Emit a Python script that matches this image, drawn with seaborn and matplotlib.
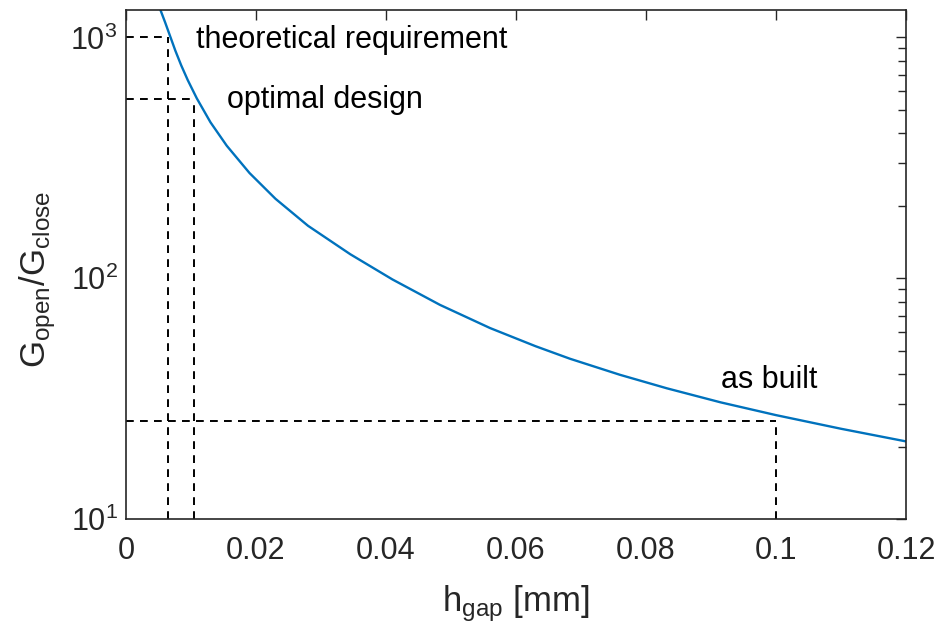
import numpy as np
import pandas as pd
import matplotlib
matplotlib.use("Agg")
import matplotlib.pyplot as plt
import seaborn as sns

# ---- data ----
h_gap = [0.0053, 0.0060, 0.0068, 0.0076, 0.0085, 0.0095, 0.0109, 0.0130, 0.0155,
         0.0190, 0.0230, 0.0280, 0.0345, 0.0410, 0.0483, 0.0560, 0.0630, 0.0683,
         0.0760, 0.0832, 0.0915, 0.1000, 0.1100, 0.1200]
g_ratio = [1300, 1159, 1010, 880, 765, 665, 558, 444, 355,
           273.5, 213.7, 165.1, 125.8, 98.8, 77.5, 62.1, 52.2, 46.3,
           39.7, 34.9, 30.5, 27.0, 23.7, 21.0]

ref_h = [0.0064, 0.0105, 0.1]      # theoretical requirement, optimal design, as built
ref_g = [1000, 555, 25.6]

label_text = ["theoretical requirement", "optimal design", "as built"]
label_h = [0.0107, 0.0155, 0.0916]
label_g = [900, 507, 35.0]

xticks = [0, 0.02, 0.04, 0.06, 0.08, 0.1, 0.12]
xtick_labels = ["0", "0.02", "0.04", "0.06", "0.08", "0.1", "0.12"]
xlim = (0, 0.12)
ylim = (10, 1300)

df = pd.DataFrame({"h_gap": h_gap, "ratio": g_ratio})

sns.set_style("white")
plt.rcParams["font.family"] = ["Liberation Sans", "DejaVu Sans"]
plt.rcParams["mathtext.fontset"] = "custom"
plt.rcParams["mathtext.rm"] = "Liberation Sans"
plt.rcParams["mathtext.it"] = "Liberation Sans:italic"
plt.rcParams["mathtext.bf"] = "Liberation Sans:bold"

dark = "#262626"
fs = 22
fs_label = 25

fig = plt.figure(figsize=(9.41, 6.29), dpi=100)
ax = fig.add_axes([0.1339, 0.1749, 0.9628 - 0.1339, 0.9841 - 0.1749])

sns.lineplot(data=df, x="h_gap", y="ratio", ax=ax, color="#0072BD", linewidth=1.7,
             estimator=None, sort=False)

ax.set_yscale("log")
ax.set_xlim(*xlim)
ax.set_ylim(*ylim)

dash = (0, (4, 3.2))
ax.vlines(ref_h, ymin=ylim[0], ymax=ref_g, colors="black", linestyles=dash, linewidth=1.4)
ax.hlines(ref_g, xmin=xlim[0], xmax=ref_h, colors="black", linestyles=dash, linewidth=1.4)

for t, xh, yg in zip(label_text, label_h, label_g):
    ax.text(xh, yg, t, ha="left", va="baseline", fontsize=fs, color="black")

ax.set_xticks(xticks)
ax.set_xticklabels(xtick_labels)

ax.tick_params(which="both", direction="in", top=True, right=True,
               colors=dark, labelsize=fs, width=1.0)
ax.tick_params(which="major", length=7)
ax.tick_params(which="minor", length=6)
ax.tick_params(axis="x", pad=12)
ax.tick_params(axis="y", pad=6)
ax.xaxis.set_minor_locator(matplotlib.ticker.NullLocator())

for s in ax.spines.values():
    s.set_color(dark)
    s.set_linewidth(1.2)

ax.set_xlabel(r"$\mathregular{h_{gap}}$ [mm]", fontsize=fs_label, color=dark)
ax.set_ylabel(r"$\mathregular{G_{open}/G_{close}}$", fontsize=fs_label, color=dark)
ax.xaxis.set_label_coords(0.5, -0.127)
ax.yaxis.set_label_coords(-0.087, 0.47)

fig.savefig("out.png", dpi=100)
